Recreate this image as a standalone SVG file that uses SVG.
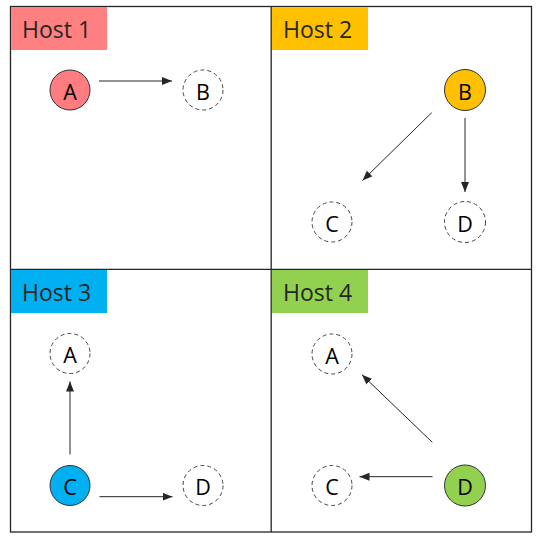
<svg xmlns="http://www.w3.org/2000/svg" width="536" height="539" viewBox="0 0 536 539">
<defs>
<marker id="arr" markerUnits="userSpaceOnUse" markerWidth="12" markerHeight="10" refX="10" refY="4" orient="auto">
<path d="M0,0 L10,4 L0,8 Z" fill="#262626"/>
</marker>
<style>
.frame{fill:none;stroke:#262626;stroke-width:1.3}
.host{font-family:"Open Sans","Noto Sans",sans-serif;font-size:23px;fill:#262626}
.solid{stroke:#333;stroke-width:1}
.dash{fill:#fff;stroke:#444;stroke-width:1;stroke-dasharray:4 3}
.lbl{font-family:"Open Sans","Noto Sans",sans-serif;font-size:21.5px;fill:#000;text-anchor:middle;dominant-baseline:central}
.conn{fill:none;stroke:#262626;stroke-width:1;marker-end:url(#arr)}
</style>
</defs>
<rect x="0" y="0" width="536" height="539" fill="#fff"/>
<g id="frame">
<rect class="frame" x="10.5" y="6.5" width="521" height="525.5"/>
<line class="frame" x1="271.2" y1="6.5" x2="271.2" y2="532"/>
<line class="frame" x1="10.5" y1="269.3" x2="531.5" y2="269.3"/>
</g>
<g id="host1">
<rect x="11" y="7" width="96" height="43" fill="#FF8080"/>
<text class="host" x="22" y="38">Host 1</text>
</g>
<g id="host2">
<rect x="272" y="7" width="96" height="43" fill="#FFC000"/>
<text class="host" x="283" y="38">Host 2</text>
</g>
<g id="host3">
<rect x="11" y="270" width="96" height="43" fill="#00B0F0"/>
<text class="host" x="22" y="301">Host 3</text>
</g>
<g id="host4">
<rect x="272" y="270" width="96" height="43" fill="#92D050"/>
<text class="host" x="283" y="301">Host 4</text>
</g>
<g id="h1-A"><circle class="solid" cx="70" cy="90" r="20" fill="#FF7C80"/><text class="lbl" x="70" y="91">A</text></g>
<g id="h1-B"><circle class="dash" cx="203" cy="90" r="20"/><text class="lbl" x="203" y="91">B</text></g>
<g id="h2-B"><circle class="solid" cx="465" cy="90" r="20.5" fill="#FFC000"/><text class="lbl" x="465" y="91">B</text></g>
<g id="h2-C"><circle class="dash" cx="332" cy="222" r="20"/><text class="lbl" x="332" y="223">C</text></g>
<g id="h2-D"><circle class="dash" cx="465" cy="222" r="20.5"/><text class="lbl" x="465" y="223">D</text></g>
<g id="h3-A"><circle class="dash" cx="70" cy="353.5" r="20"/><text class="lbl" x="70" y="354.5">A</text></g>
<g id="h3-C"><circle class="solid" cx="70" cy="485.5" r="20" fill="#00B0F0"/><text class="lbl" x="70" y="486.5">C</text></g>
<g id="h3-D"><circle class="dash" cx="203" cy="485.5" r="20"/><text class="lbl" x="203" y="486.5">D</text></g>
<g id="h4-A"><circle class="dash" cx="332" cy="354" r="20"/><text class="lbl" x="332" y="355">A</text></g>
<g id="h4-C"><circle class="dash" cx="332" cy="485.5" r="20"/><text class="lbl" x="332" y="486.5">C</text></g>
<g id="h4-D"><circle class="solid" cx="465" cy="485.5" r="20.5" fill="#92D050"/><text class="lbl" x="465" y="486.5">D</text></g>
<g id="connectors">
<path class="conn" d="M99,81 L172,81"/>
<path class="conn" d="M431.7,112.7 L362.5,180.5"/>
<path class="conn" d="M465,118 L465,192"/>
<path class="conn" d="M70,454.5 L70,381.5"/>
<path class="conn" d="M99.5,496.7 L172.5,496.7"/>
<path class="conn" d="M432.5,476.7 L359.5,476.7"/>
<path class="conn" d="M432.3,442.3 L362,374.8"/>
</g>
</svg>
